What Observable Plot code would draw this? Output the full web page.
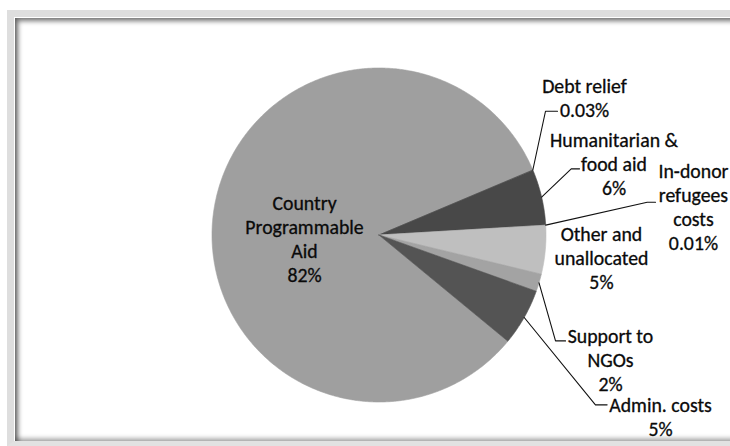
<!DOCTYPE html>
<html>
<head>
<meta charset="utf-8">
<script src="https://cdn.jsdelivr.net/npm/d3@7"></script>
<script src="https://cdn.jsdelivr.net/npm/@observablehq/plot@0.6"></script>
<style>
  html, body { margin: 0; padding: 0; background: #ffffff; }
  #wrap { position: relative; width: 730px; height: 446px; overflow: hidden; background: #fff; }
  #frame {
    position: absolute; left: 7px; top: 10px; width: 760px; height: 436px;
    border-left: 7px solid #dedede; border-top: 7px solid #dedede; border-bottom: 5px solid #e2e2e2;
    box-sizing: border-box; pointer-events: none;
  }
  #frame::after {
    content: ""; position: absolute; left: 1px; top: 1px; right: 0; bottom: 0;
    box-shadow: inset 3px 3px 5px rgba(0,0,0,0.55), inset 0 -3px 4px rgba(0,0,0,0.3);
  }
  #chart { position: absolute; left: 0; top: 0; }
</style>
</head>
<body>
<div id="wrap"><div id="chart"></div><div id="frame"></div></div>
<script>
// ---- data ----
const categories = [
  "Country Programmable Aid",
  "Debt relief",
  "Humanitarian & food aid",
  "In-donor refugees costs",
  "Other and unallocated",
  "Support to NGOs",
  "Admin. costs"
];
const shares = [82.6, 0.03, 5.4, 0.01, 4.7, 1.7, 5.5];
const shareLabels = ["82%", "0.03%", "6%", "0.01%", "5%", "2%", "5%"];
const nameLines = [
  ["Country", "Programmable", "Aid"],
  ["Debt relief"],
  ["Humanitarian &", "food aid"],
  ["In-donor", "refugees", "costs"],
  ["Other and", "unallocated"],
  ["Support to", "NGOs"],
  ["Admin. costs"]
];

// ---- styles / layout ----
const grays = ["#9f9f9f", "#7a7a7a", "#484848", "#6a6a6a", "#bfbfbf", "#a3a3a3", "#545454"];
const W = 730, H = 446;
const R = 167, CX = 378.5, CY = 234.5;          // pie radius and centre (pixels)
const startDeg = 129.5;                          // angle of first slice (clockwise from 12 o'clock)
const fontSize = 19.8, lineGap = 24;
// label block centres and leader bends, in pie-radius units (y up)
const labelPos = [
  {x: -0.446, y: -0.017},
  {x: 1.2305, y: 0.823},
  {x: 1.407, y: 0.427},
  {x: 1.883, y: 0.171},
  {x: 1.332, y: -0.133},
  {x: 1.386, y: -0.744},
  {x: 1.686, y: -1.087}
];
const leaderBend = [null, {x: 0.997, y: 0.741, x2: 1.069}, {x: 1.151, y: 0.396, x2: 1.201},
  {x: 1.606, y: 0.196, x2: 1.656}, null, {x: 1.057, y: -0.634, x2: 1.117}, {x: 1.296, y: -1.017, x2: 1.366}];

// ---- geometry from data ----
const rows = categories.map((name, i) => ({name, value: shares[i], i}));
const start = startDeg * Math.PI / 180;
const arcs = d3.pie().sort(null).value(d => d.value).startAngle(start).endAngle(start + 2 * Math.PI)(rows);

const slicePts = [];
for (const a of arcs) {
  const name = a.data.name;
  slicePts.push({name, x: 0, y: 0});
  const n = Math.max(2, Math.ceil((a.endAngle - a.startAngle) / (0.4 * Math.PI / 180)));
  for (let k = 0; k <= n; k++) {
    const t = a.startAngle + (a.endAngle - a.startAngle) * k / n;
    slicePts.push({name, x: Math.sin(t), y: Math.cos(t)});
  }
  slicePts.push({name, x: 0, y: 0});
}

const leaderPts = [];
arcs.forEach((a, i) => {
  const b = leaderBend[i];
  if (!b) return;
  const m = (a.startAngle + a.endAngle) / 2;
  const name = a.data.name;
  leaderPts.push({name, x: Math.sin(m), y: Math.cos(m)});
  leaderPts.push({name, x: b.x, y: b.y});
  leaderPts.push({name, x: b.x2, y: b.y});
});

const labels = categories.map((name, i) => ({
  name,
  text: nameLines[i].concat([shareLabels[i]]).join("\n"),
  x: labelPos[i].x,
  y: labelPos[i].y
}));

const plot = Plot.plot({
  width: W, height: H,
  margin: 0,
  style: {background: "transparent", fontFamily: "Carlito, Calibri, Lato, sans-serif"},
  x: {domain: [-CX / R, (W - CX) / R], axis: null},
  y: {domain: [-(H - CY) / R, CY / R], axis: null},
  color: {type: "ordinal", domain: categories, range: grays},
  marks: [
    Plot.line(slicePts, {x: "x", y: "y", z: "name", fill: "name", stroke: "name", strokeWidth: 0.6, curve: "linear-closed"}),
    Plot.line(leaderPts, {x: "x", y: "y", z: "name", stroke: "#111", strokeWidth: 1.1}),
    Plot.text(labels, {x: "x", y: "y", text: "text", fontSize, lineHeight: lineGap / fontSize,
      textAnchor: "middle", lineAnchor: "middle", fill: "#0a0a0a", stroke: "#0a0a0a", strokeWidth: 0.3})
  ]
});
document.getElementById("chart").appendChild(plot);
</script>
</body>
</html>
